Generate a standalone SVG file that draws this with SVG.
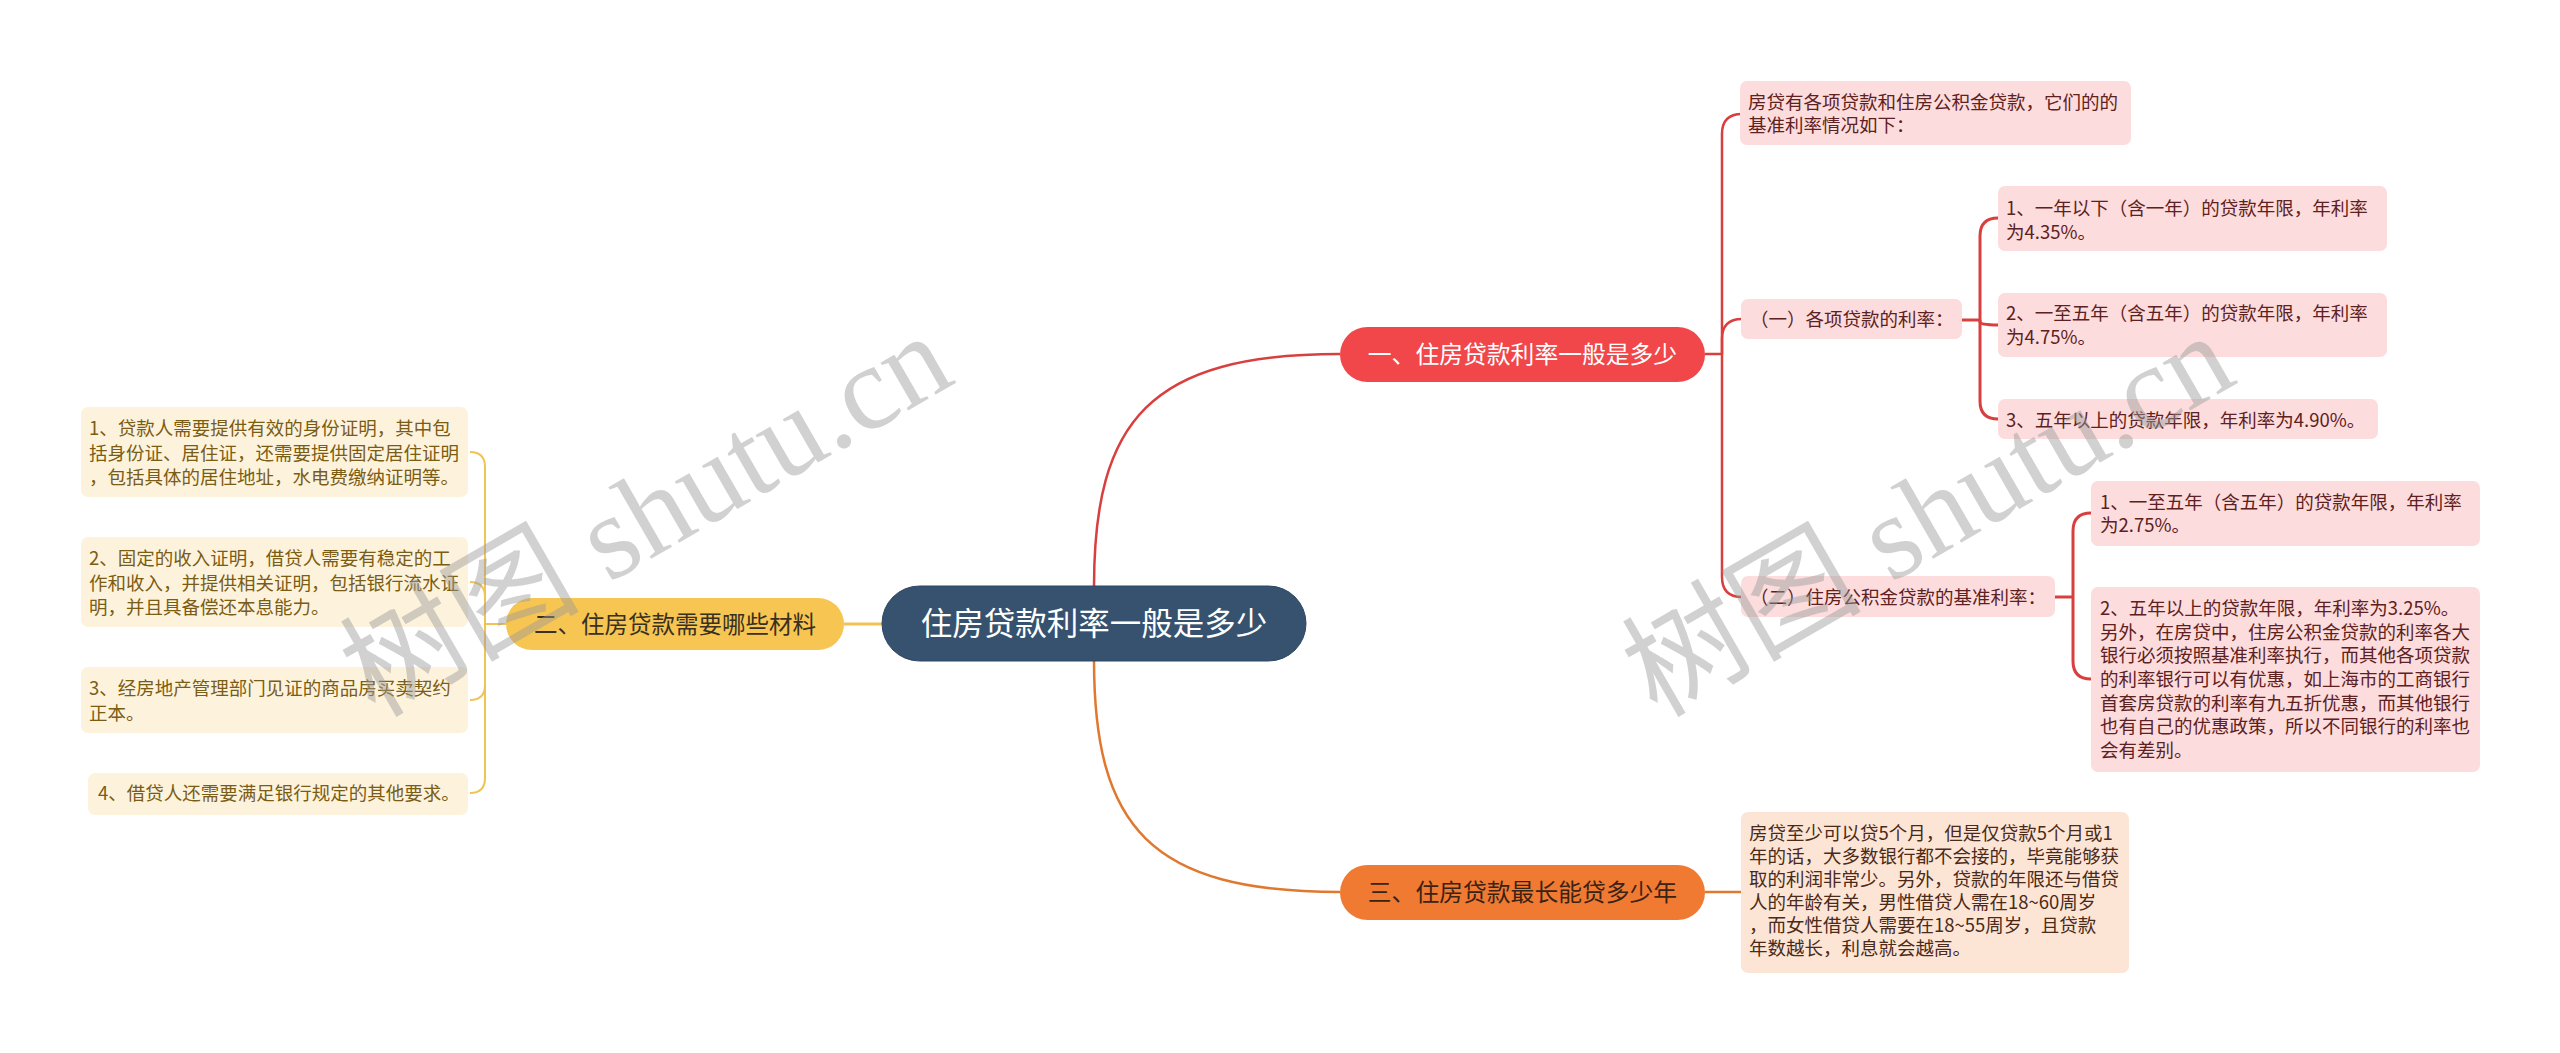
<svg xmlns="http://www.w3.org/2000/svg" width="2560" height="1053" viewBox="0 0 2560 1053">
<style>
.t{font-family:"Noto Sans CJK SC","Liberation Sans",sans-serif;}
.leafY{fill:#fdf3dc;}
.leafR{fill:#fcdcdc;}
.leafO{fill:#fde5d6;}
.txY{font-size:18.5px;fill:#7b5c14;}
.txR{font-size:18.5px;fill:#5e2121;}
.txO{font-size:18.5px;fill:#4a2a18;}
.cY{fill:none;stroke:#f0c354;stroke-width:2;}
.cR{fill:none;stroke:#d8403f;stroke-width:2.5;}
.cR2{fill:none;stroke:#d8403f;stroke-width:3;}
.cO{fill:none;stroke:#e0782f;stroke-width:2.5;}
.wm{font-family:"Liberation Serif","Noto Sans CJK SC",serif;font-size:120px;fill:#9a9a9a;opacity:0.45;}
</style>
<rect width="2560" height="1053" fill="#ffffff"/>
<g id="connectors">
  <path class="cR" d="M1094 587 C1094 420 1150 354 1340 354"/>
  <path class="cO" d="M1094 660 C1094 827 1150 892 1340 892"/>
  <path d="M882 624 H844" fill="none" stroke="#f0c354" stroke-width="3"/>
  <path class="cY" d="M506 624 H485"/>
  <path class="cY" d="M485 624 V467 Q485 452 470 452"/>
  <path class="cY" d="M485 624 V597 Q485 582 470 582"/>
  <path class="cY" d="M485 624 V685 Q485 700 470 700"/>
  <path class="cY" d="M485 624 V778 Q485 793 470 793"/>
  <path class="cR" d="M1705 354 H1722"/>
  <path class="cR" d="M1722 354 V134 Q1722 114 1742 114"/>
  <path class="cR" d="M1722 354 V339 Q1722 319 1742 319"/>
  <path class="cR" d="M1722 354 V577 Q1722 597 1742 597"/>
  <path class="cR2" d="M1962 320 H1980"/>
  <path class="cR2" d="M1980 320 V236 Q1980 218 1998 218"/>
  <path class="cR2" d="M1980 320 V322 Q1980 325 1998 325"/>
  <path class="cR2" d="M1980 320 V401 Q1980 419 1998 419"/>
  <path class="cR2" d="M2055 597 H2073"/>
  <path class="cR2" d="M2073 597 V531 Q2073 513 2091 513"/>
  <path class="cR2" d="M2073 597 V661 Q2073 679 2091 679"/>
  <path class="cO" d="M1705 892 H1741"/>
</g>
<g id="root">
  <rect x="882" y="586" width="424" height="75" rx="37.5" fill="#36526f" stroke="#2d4762" stroke-width="1"/>
  <text class="t" x="1094" y="635" font-size="31.5" fill="#ffffff" text-anchor="middle">住房贷款利率一般是多少</text>
</g>
<g id="b2">
  <rect x="506" y="598" width="338" height="52" rx="26" fill="#f6c552"/>
  <text class="t" x="675" y="632.5" font-size="23.5" fill="#3a3020" text-anchor="middle">二、住房贷款需要哪些材料</text>
</g>
<g id="l1">
  <rect class="leafY" x="81" y="407" width="387" height="90" rx="7"/>
  <text class="t txY" x="89"><tspan x="89" y="435">1、贷款人需要提供有效的身份证明，其中包</tspan><tspan x="89" y="460">括身份证、居住证，还需要提供固定居住证明</tspan><tspan x="89" y="484">，包括具体的居住地址，水电费缴纳证明等。</tspan></text>
</g>
<g id="l2">
  <rect class="leafY" x="81" y="537" width="387" height="90" rx="7"/>
  <text class="t txY"><tspan x="89" y="565">2、固定的收入证明，借贷人需要有稳定的工</tspan><tspan x="89" y="590">作和收入，并提供相关证明，包括银行流水证</tspan><tspan x="89" y="614">明，并且具备偿还本息能力。</tspan></text>
</g>
<g id="l3">
  <rect class="leafY" x="81" y="667" width="387" height="66" rx="7"/>
  <text class="t txY"><tspan x="89" y="695">3、经房地产管理部门见证的商品房买卖契约</tspan><tspan x="89" y="720">正本。</tspan></text>
</g>
<g id="l4">
  <rect class="leafY" x="88" y="773" width="380" height="42" rx="7"/>
  <text class="t txY" x="98" y="800">4、借贷人还需要满足银行规定的其他要求。</text>
</g>
<g id="b1">
  <rect x="1340" y="327" width="365" height="55" rx="27.5" fill="#f1474a"/>
  <text class="t" x="1522.5" y="363" font-size="23.8" fill="#ffffff" text-anchor="middle">一、住房贷款利率一般是多少</text>
</g>
<g id="a">
  <rect class="leafR" x="1740" y="81" width="391" height="64" rx="7"/>
  <text class="t txR"><tspan x="1748" y="109">房贷有各项贷款和住房公积金贷款，它们的的</tspan><tspan x="1748" y="132">基准利率情况如下：</tspan></text>
</g>
<g id="b">
  <rect class="leafR" x="1741" y="299" width="221" height="40" rx="7"/>
  <text class="t txR" x="1750" y="326">（一）各项贷款的利率：</text>
</g>
<g id="c1">
  <rect class="leafR" x="1998" y="186" width="389" height="65" rx="7"/>
  <text class="t txR"><tspan x="2006" y="215">1、一年以下（含一年）的贷款年限，年利率</tspan><tspan x="2006" y="239">为4.35%。</tspan></text>
</g>
<g id="c2">
  <rect class="leafR" x="1998" y="293" width="389" height="64" rx="7"/>
  <text class="t txR"><tspan x="2006" y="320">2、一至五年（含五年）的贷款年限，年利率</tspan><tspan x="2006" y="344">为4.75%。</tspan></text>
</g>
<g id="c3">
  <rect class="leafR" x="1998" y="399" width="380" height="40" rx="7"/>
  <text class="t txR" x="2006" y="427">3、五年以上的贷款年限，年利率为4.90%。</text>
</g>
<g id="d">
  <rect class="leafR" x="1741" y="576" width="314" height="41" rx="7"/>
  <text class="t txR" x="1750" y="604">（二）住房公积金贷款的基准利率：</text>
</g>
<g id="e1">
  <rect class="leafR" x="2091" y="481" width="389" height="65" rx="7"/>
  <text class="t txR"><tspan x="2100" y="509">1、一至五年（含五年）的贷款年限，年利率</tspan><tspan x="2100" y="532">为2.75%。</tspan></text>
</g>
<g id="e2">
  <rect class="leafR" x="2091" y="587" width="389" height="185" rx="7"/>
  <text class="t txR"><tspan x="2100" y="615">2、五年以上的贷款年限，年利率为3.25%。</tspan><tspan x="2100" y="639">另外，在房贷中，住房公积金贷款的利率各大</tspan><tspan x="2100" y="662">银行必须按照基准利率执行，而其他各项贷款</tspan><tspan x="2100" y="686">的利率银行可以有优惠，如上海市的工商银行</tspan><tspan x="2100" y="710">首套房贷款的利率有九五折优惠，而其他银行</tspan><tspan x="2100" y="733">也有自己的优惠政策，所以不同银行的利率也</tspan><tspan x="2100" y="757">会有差别。</tspan></text>
</g>
<g id="b3">
  <rect x="1340" y="865" width="365" height="55" rx="27.5" fill="#f07a32"/>
  <text class="t" x="1522.5" y="901" font-size="23.8" fill="#3b2314" text-anchor="middle">三、住房贷款最长能贷多少年</text>
</g>
<g id="f">
  <rect class="leafO" x="1741" y="812" width="388" height="161" rx="7"/>
  <text class="t txO"><tspan x="1749" y="840">房贷至少可以贷5个月，但是仅贷款5个月或1</tspan><tspan x="1749" y="863">年的话，大多数银行都不会接的，毕竟能够获</tspan><tspan x="1749" y="886">取的利润非常少。另外，贷款的年限还与借贷</tspan><tspan x="1749" y="909">人的年龄有关，男性借贷人需在18~60周岁</tspan><tspan x="1749" y="932">，而女性借贷人需要在18~55周岁，且贷款</tspan><tspan x="1749" y="955">年数越长，利息就会越高。</tspan></text>
</g>
<g id="watermarks">
  <text class="wm" transform="translate(646,515) rotate(-30)" text-anchor="middle" dominant-baseline="central">树图 shutu.cn</text>
  <text class="wm" transform="translate(1928,515) rotate(-30)" text-anchor="middle" dominant-baseline="central">树图 shutu.cn</text>
</g>
</svg>
